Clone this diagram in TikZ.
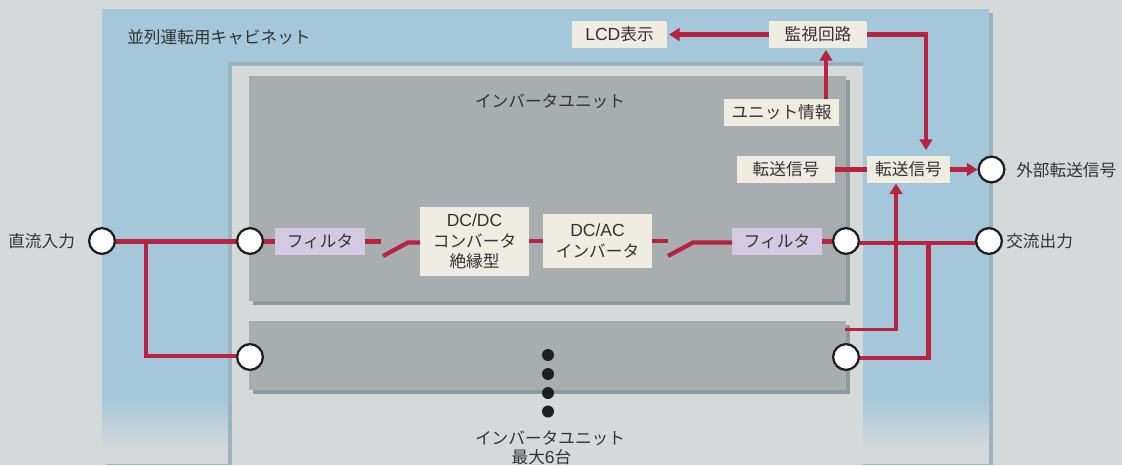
\documentclass[tikz,border=0pt]{standalone}
\usepackage{fontspec}
\usetikzlibrary{arrows.meta}
\newfontfamily\jpf{Noto Sans CJK JP}
\newfontfamily\latf{Liberation Sans}[Scale=1.05]
\definecolor{bgc}{HTML}{D5D9DA}
\definecolor{cabc}{HTML}{A4C7D9}
\definecolor{shadec}{HTML}{9AB3BE}
\definecolor{unitc}{HTML}{A8ADAF}
\definecolor{unitsh}{HTML}{8C9B9E}
\definecolor{boxc}{HTML}{EFECE2}
\definecolor{filc}{HTML}{D3C9E3}
\definecolor{redc}{HTML}{B8243F}
\definecolor{txtc}{HTML}{333333}
\tikzset{
  txt/.style={inner sep=0pt,text=txtc,font=\fontsize{12.5}{15.4}\selectfont\jpf,align=center},
  wh/.style 2 args={minimum width=#1*0.75pt,minimum height=#2*0.75pt},
  boxst/.style={txt,fill=boxc},
  filst/.style={txt,fill=filc,wh={90}{27}},
  port/.style={circle,draw=black!88,fill=white,line width=1.7pt,minimum size=19.3pt,inner sep=0pt},
  wire/.style={draw=redc,line width=3.2pt},
  thinwire/.style={draw=redc,line width=2.4pt},
  arr/.style={-{Triangle[length=8pt,width=9.5pt]}},
  dot/.style={circle,fill=black!88,minimum size=9pt,inner sep=0pt},
}
\begin{document}
\begin{tikzpicture}[x=0.75pt,y=-0.75pt]
\useasboundingbox (0,0) rectangle (1122,465);
% backgrounds
\fill[bgc] (0,0) rectangle (1122,465);
\fill[shadec] (989,13) rectangle (993,465);
\fill[shadec] (106,463.5) rectangle (989,465);
\fill[cabc] (102,9) rectangle (989,398);
\shade[top color=cabc,bottom color=bgc] (102,397.5) rectangle (989,449);
\fill[bgc] (102,449) rectangle (989,463.5);
\fill[shadec] (228,62) rectangle (863,465);
\fill[bgc] (232,66) rectangle (863,465);
\fill[unitsh] (253,80) rectangle (850,305);
\fill[unitc] (249,76) rectangle (846,301);
\fill[unitsh] (253,325) rectangle (850,394);
\fill[unitc] (249,321) rectangle (846,390);
% labels
\node[txt,anchor=west] (cabl) at (127,37) {並列運転用キャビネット};
\node[txt] (unl) at (550,101) {インバータユニット};
\node[txt] (unl2) at (550,438) {インバータユニット};
\node[txt] (unl3) at (541.5,457) {最大{\latf 6}台};
\node[txt,anchor=west] (inl) at (8,241.5) {直流入力};
\node[txt,anchor=west] (outl) at (1006,241.5) {交流出力};
\node[txt,anchor=west] (extl) at (1016,170) {外部転送信号};
% boxes
\node[boxst,wh={95}{27}] (lcd) at (619.5,34.5) {{\latf LCD}表示};
\node[boxst,wh={98}{27}] (kan) at (818,34.5) {監視回路};
\node[boxst,wh={115}{27}] (info) at (781.5,112.5) {ユニット情報};
\node[boxst,wh={98}{27}] (tr1) at (786,169.5) {転送信号};
\node[boxst,wh={83}{27}] (tr2) at (908.5,169.5) {転送信号};
\node[filst] (fil1) at (320,241.5) {フィルタ};
\node[filst] (fil2) at (777,241.5) {フィルタ};
\node[boxst,wh={109}{69}] (dc1) at (474.5,241.5) {{\latf DC/DC}\\コンバータ\\絶縁型};
\node[boxst,wh={109}{54}] (dc2) at (597.5,241) {{\latf DC/AC}\\インバータ};
% junctions
\coordinate (p1c) at (102,241.5);
\coordinate (p2c) at (250,241.5);
\coordinate (p3c) at (250,356);
\coordinate (jl) at (146,241.5);
\coordinate (jlb) at (146,356);
\coordinate (sw1a) at (381,241.5);
\coordinate (sw1b) at (383,256);
\coordinate (sw1c) at (408,242.5);
\coordinate (sw1d) at (420,242.5);
\coordinate (sw2a) at (668,241);
\coordinate (sw2b) at (668,256);
\coordinate (sw2c) at (693,242.5);
\coordinate (sw2d) at (732,242.5);
\coordinate (jr) at (928.5,243);
\coordinate (jrb) at (928.5,358);
\coordinate (ubr) at (846,358);
\coordinate (ubt) at (845,329.5);
\coordinate (up) at (896,183.5);
\coordinate (infoout) at (826,99);
\coordinate (kanin) at (826,50);
\coordinate (dn) at (926,150);
\coordinate (lcdin) at (669,34.5);
\coordinate (kan1) at (769,34.5);
\coordinate (kan2) at (867,34.5);
\coordinate (u1r) at (846,243);
\coordinate (o1) at (989,243);
\coordinate (f2r) at (846,241.5);
\coordinate (dc2l) at (543,241);
\coordinate (dc1r) at (529,241);
% wires
\draw[wire] (p1c) -- (p2c);
\draw[wire] (jl) -- (jlb) -- (p3c);
\draw[wire] (p2c) -- (fil1.west);
\draw[wire] (fil1.east) -- (sw1a);
\draw[wire] (sw1b) -- (sw1c) -- (sw1d);
\draw[wire] (dc1r) -- (dc2l);
\draw[wire] (dc2.east) -- (sw2a);
\draw[wire] (sw2b) -- (sw2c) -- (sw2d);
\draw[wire] (fil2.east) -- (f2r);
\draw[wire] (u1r) -- (o1);
\draw[wire] (jr) -- (jrb) -- (ubr);
\draw[thinwire,arr] (ubt) -| (up);
\draw[wire,arr] (kan1) -- (lcdin);
\draw[wire,arr] (kan2) -| (dn);
\draw[wire,arr] (infoout) -- (kanin);
\draw[wire] (tr1.east) -- (tr2.west);
% ports
\node[port] (p1) at (102,241) {};
\node[port] (p2) at (250,241) {};
\node[port] (p3) at (250,357) {};
\node[port] (p4) at (846,241) {};
\node[port] (p5) at (846,357) {};
\node[port] (p6) at (989,241) {};
\node[port] (p7) at (991.5,169.5) {};
\draw[wire,arr] (tr2.east) -- (p7.west);
% dots
\node[dot] (d1) at (548,355) {};
\node[dot] (d2) at (548,374) {};
\node[dot] (d3) at (548,393) {};
\node[dot] (d4) at (548,411.5) {};
\end{tikzpicture}
\end{document}
